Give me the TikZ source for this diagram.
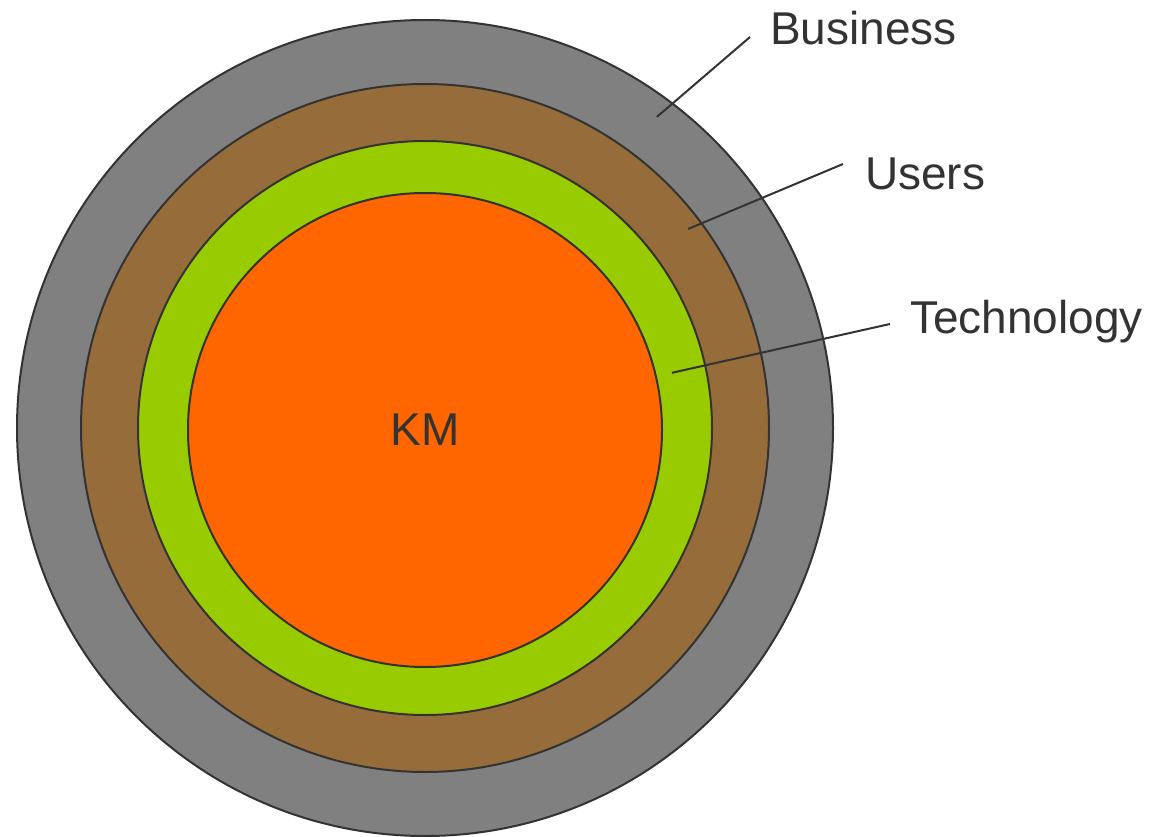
\documentclass[tikz,border=0pt]{standalone}
\usepackage{fontspec}
\setmainfont{Liberation Sans}
\usepackage{tikz}
\usetikzlibrary{positioning}
\usetikzlibrary{calc}
\definecolor{ring gray}{HTML}{808080}
\definecolor{ring brown}{HTML}{966C3B}
\definecolor{ring green}{HTML}{99CC00}
\definecolor{ring orange}{HTML}{FF6600}
\definecolor{ink}{HTML}{333333}
\tikzstyle{ring}=[draw=ink,circle,line width=2pt,inner sep=0pt]
\tikzstyle{label}=[text=ink,anchor=base west,inner sep=0pt,font=\fontsize{46}{55}\selectfont]

\begin{document}
\begin{tikzpicture}[
  x=1pt,y=-1pt,
  leader/.style={draw=ink,line width=2pt},
]
  \useasboundingbox (0,0) rectangle (1176,837);
  \node[ring,fill=ring gray,minimum size=816pt] (business) at (425,428) {};
  \node[ring,fill=ring brown,minimum size=688pt] (users) at (425,428) {};
  \node[ring,fill=ring green,minimum size=574pt] (tech) at (425,428) {};
  \node[ring,fill=ring orange,minimum size=474pt] (km) at (425,430) {};
  \node[text=ink,font=\fontsize{46}{55}\selectfont] at (km.center) {KM};

  \node[label] (business label) at (770,45) {Business};
  \node[label] (users label) at (865,190) {Users};
  \node[label] (tech label) at (910,333) {Technology};

  \coordinate (B) at ($(business.center)+(53.3:388pt)$);
  \coordinate (U) at ($(users.center)+(37.1:330pt)$);
  \coordinate (T) at ($(tech.center)+(12.6:253pt)$);
  \coordinate (BL) at ([xshift=-20pt,yshift=8pt]business label.base west);
  \coordinate (UL) at ([xshift=-22pt,yshift=26pt]users label.base west);
  \coordinate (TL) at ([xshift=-20pt,yshift=9pt]tech label.base west);

  \draw[leader] (B) -- (BL);
  \draw[leader] (U) -- (UL);
  \draw[leader] (T) -- (TL);
\end{tikzpicture}
\end{document}
